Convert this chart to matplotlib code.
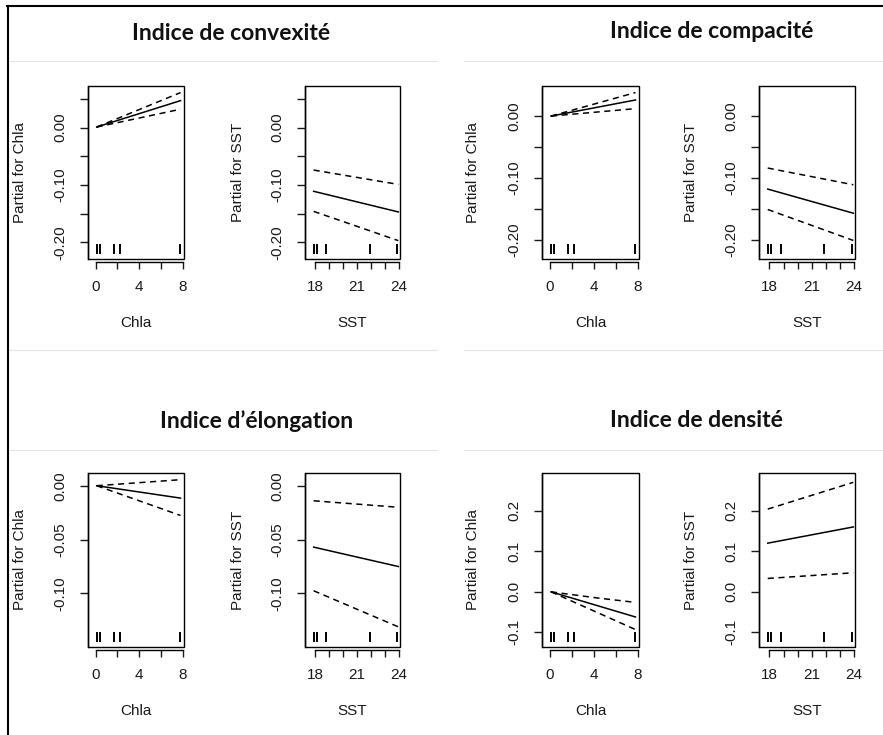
import matplotlib
matplotlib.use('Agg')
import matplotlib.pyplot as plt
from matplotlib.patches import Rectangle
from matplotlib.lines import Line2D

W, H = 883, 735

titles = ["Indice de convexité", "Indice de compacité",
          "Indice d\u2019élongation", "Indice de densité"]

# rug positions (observed covariate values)
chla_rug = [0.15, 0.4, 1.65, 2.2, 7.75]
sst_rug = [17.9, 18.1, 18.8, 21.9, 23.85]

# partial effect curves: x points and fit / upper / lower per index
chla_x = [[0.1, 7.8], [0.12, 7.8], [0.1, 7.8], [0.12, 7.8]]
chla_fit = [[0.001, 0.047], [0.0, 0.026], [0.0, -0.0115], [0.0, -0.062]]
chla_up_x = [[0.1, 7.8], [0.12, 7.8], [0.1, 7.8], [0.12, 4.3, 7.8]]
chla_up = [[0.001, 0.061], [0.0, 0.038], [0.0, 0.0056], [0.0, -0.015, -0.026]]
chla_lo = [[0.001, 0.032], [0.0, 0.012], [0.0, -0.0276], [0.0, -0.093]]

sst_x = [17.88, 23.95]
sst_fit = [[-0.111, -0.147], [-0.118, -0.157], [-0.057, -0.075], [0.120, 0.160]]
sst_up = [[-0.074, -0.099], [-0.084, -0.111], [-0.014, -0.020], [0.204, 0.270]]
sst_lo = [[-0.146, -0.197], [-0.151, -0.201], [-0.0975, -0.131], [0.033, 0.047]]

ylims = [(-0.229, 0.0725), (-0.231, 0.0486), (-0.1497, 0.0118), (-0.136, 0.293)]
yticks = [[0.05, 0.0, -0.05, -0.10, -0.15, -0.20],
          [0.0, -0.05, -0.10, -0.15, -0.20],
          [0.0, -0.05, -0.10],
          [-0.1, 0.0, 0.1, 0.2]]
ylabels = [["", "0.00", "", "-0.10", "", "-0.20"],
           ["0.00", "", "-0.10", "", "-0.20"],
           ["0.00", "-0.05", "-0.10"],
           ["-0.1", "0.0", "0.1", "0.2"]]

chla_ticks = [0, 2, 4, 6, 8]
chla_labels = ["0", "", "4", "", "8"]
sst_ticks = [18, 19, 20, 21, 22, 23, 24]
sst_labels = ["18", "", "", "21", "", "", "24"]

# pixel boxes (left, right) of each pair and (top, bottom) of each row
cols = [((88, 184), (305, 400)), ((542, 639), (759, 855))]
rows = [(86, 259), (473, 647)]
title_pos = [(231, 34), (712, 32), (257, 421), (696, 421)]

TXT = '#1a1a1a'
FS = 11
plt.rcParams['font.family'] = ['Liberation Sans', 'DejaVu Sans']


def px_rect(x0, x1, y0, y1):
    return [x0 / W, 1 - y1 / H, (x1 - x0) / W, (y1 - y0) / H]


def term_axes(fig, rect, xlim, ylim, xt, xtl, yt, ytl, xlabel, ylabel, rug):
    ax = fig.add_axes(rect)
    ax.set_xlim(*xlim)
    ax.set_ylim(*ylim)
    for s in ['top', 'right']:
        ax.spines[s].set_visible(False)
    ax.spines['left'].set_linewidth(1.0)
    ax.spines['bottom'].set_linewidth(1.0)
    ax.spines['bottom'].set_position(('outward', 2))
    ax.spines['bottom'].set_bounds(xt[0], xt[-1])
    ax.add_patch(Rectangle((0, 0), 1, 1, transform=ax.transAxes, fill=False,
                           lw=1.0, color='black', clip_on=False, zorder=5))
    ax.set_xticks(xt)
    ax.set_xticklabels(xtl)
    ax.set_yticks(yt)
    ax.set_yticklabels(ytl, rotation=90, va='center')
    ax.tick_params(axis='x', length=5.2, width=1.0, pad=8, labelsize=FS, colors=TXT)
    ax.tick_params(axis='y', length=5.5, width=1.0, pad=9, labelsize=FS, colors=TXT)
    ax.set_xlabel(xlabel, fontsize=FS, color=TXT, va='center')
    ax.set_ylabel(ylabel, fontsize=FS, color=TXT, va='center')
    ax.xaxis.set_label_coords(0.5, -0.37)
    ax.yaxis.set_label_coords(-0.71, 0.5)
    trans = ax.get_xaxis_transform()
    for r in rug:
        ax.plot([r, r], [0.035, 0.083], color='black', lw=1.4, transform=trans)
    return ax


fig = plt.figure(figsize=(W / 100, H / 100), dpi=100)

for i in range(4):
    (cx, sx) = cols[i % 2]
    (ty, by) = rows[i // 2]

    ax = term_axes(fig, px_rect(cx[0], cx[1], ty, by), (-0.7, 8.12), ylims[i],
                   chla_ticks, chla_labels, yticks[i], ylabels[i],
                   "Chla", "Partial for Chla", chla_rug)
    ax.plot(chla_x[i], chla_fit[i], color='black', lw=1.1)
    ax.plot(chla_up_x[i], chla_up[i], color='black', lw=1.1, dashes=(4, 3))
    ax.plot(chla_x[i], chla_lo[i], color='black', lw=1.1, dashes=(4, 3))

    ax = term_axes(fig, px_rect(sx[0], sx[1], ty, by), (17.26, 24.07), ylims[i],
                   sst_ticks, sst_labels, yticks[i], ylabels[i],
                   "SST", "Partial for SST", sst_rug)
    ax.plot(sst_x, sst_fit[i], color='black', lw=1.1)
    ax.plot(sst_x, sst_up[i], color='black', lw=1.1, dashes=(4, 3))
    ax.plot(sst_x, sst_lo[i], color='black', lw=1.1, dashes=(4, 3))

    tx, tyy = title_pos[i]
    fig.text(tx / W, 1 - tyy / H, titles[i], ha='center', va='center',
             fontsize=16.5, fontweight='bold', family=['Lato', 'DejaVu Sans'],
             color='#111111')

# separators and frame
def fig_line(x0, y0, x1, y1, color, lw):
    fig.add_artist(Line2D([x0 / W, x1 / W], [1 - y0 / H, 1 - y1 / H],
                          transform=fig.transFigure, color=color, lw=lw))

for yy in [61, 350, 450]:
    fig_line(8, yy, 437, yy, '#e4e4e4', 0.8)
    fig_line(464, yy, 883, yy, '#e4e4e4', 0.8)

fig_line(7, 6, 883, 6, 'black', 1.5)
fig_line(8, 6, 8, 735, 'black', 1.5)

fig.savefig("out.png", dpi=100)
